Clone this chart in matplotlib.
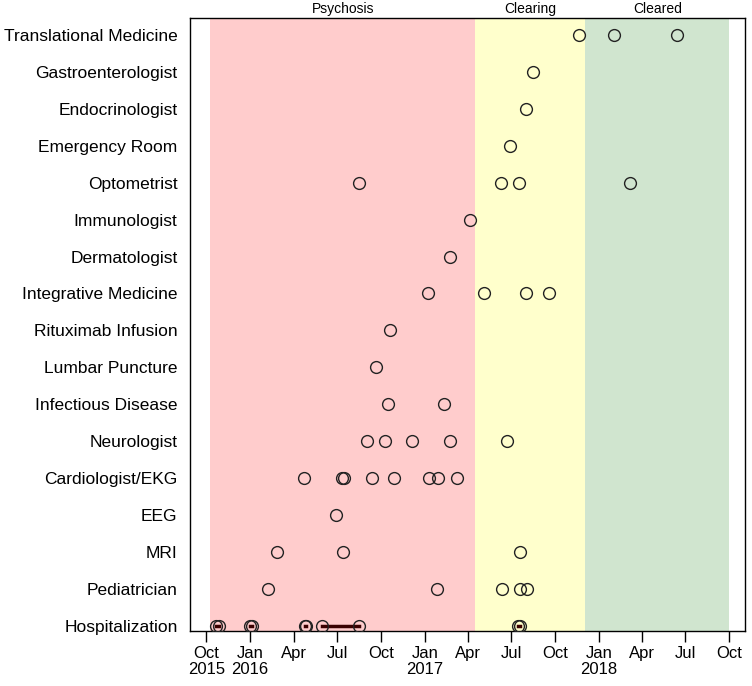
import numpy as np
import matplotlib
matplotlib.use('Agg')
import matplotlib.pyplot as plt
from datetime import datetime

plt.rcParams['font.family'] = ['Liberation Sans', 'DejaVu Sans']

# categories, bottom to top
categories = ['Hospitalization', 'Pediatrician', 'MRI', 'EEG', 'Cardiologist/EKG',
              'Neurologist', 'Infectious Disease', 'Lumbar Puncture',
              'Rituximab Infusion', 'Integrative Medicine', 'Dermatologist',
              'Immunologist', 'Optometrist', 'Emergency Room', 'Endocrinologist',
              'Gastroenterologist', 'Translational Medicine']

visits = {
    'Pediatrician': ['2016-02-08', '2017-01-26', '2017-06-12', '2017-07-20', '2017-08-04'],
    'MRI': ['2016-02-27', '2016-07-14', '2017-07-20'],
    'EEG': ['2016-06-29'],
    'Cardiologist/EKG': ['2016-04-23', '2016-07-12', '2016-07-16', '2016-09-13',
                         '2016-10-29', '2017-01-09', '2017-01-28', '2017-03-09'],
    'Neurologist': ['2016-09-02', '2016-10-10', '2016-12-06', '2017-02-22', '2017-06-23'],
    'Infectious Disease': ['2016-10-16', '2017-02-10'],
    'Lumbar Puncture': ['2016-09-21'],
    'Rituximab Infusion': ['2016-10-21'],
    'Integrative Medicine': ['2017-01-07', '2017-05-04', '2017-08-02', '2017-09-19'],
    'Dermatologist': ['2017-02-22'],
    'Immunologist': ['2017-04-06'],
    'Optometrist': ['2016-08-17', '2017-06-10', '2017-07-18', '2018-03-07'],
    'Emergency Room': ['2017-06-29'],
    'Endocrinologist': ['2017-08-02'],
    'Gastroenterologist': ['2017-08-16'],
    'Translational Medicine': ['2017-11-21', '2018-02-02', '2018-06-14'],
}

# hospital stays: admission, discharge
stay_start = ['2015-10-22', '2016-01-01', '2016-04-24', '2016-05-31', '2017-07-16']
stay_end = ['2015-10-27', '2016-01-05', '2016-04-26', '2016-08-17', '2017-07-19']

phases = ['Psychosis', 'Clearing', 'Cleared']
phase_start = ['2015-10-09', '2017-04-17', '2017-12-03']
phase_end = ['2017-04-17', '2017-12-03', '2018-10-01']
phase_colors = ['#FFCCCC', '#FFFFCC', '#D0E5CF']

def d(s):
    return datetime.strptime(s, '%Y-%m-%d')

fig = plt.figure(figsize=(7.52, 6.86), dpi=100)
ax = fig.add_axes([0.2527, 0.0802, 0.7380, 0.8936])

for name, s, e, c in zip(phases, phase_start, phase_end, phase_colors):
    ax.axvspan(d(s), d(e), color=c, lw=0, zorder=0)
    mid = d(s) + (d(e) - d(s)) / 2
    ax.text(mid, 1.004, name, transform=ax.get_xaxis_transform(),
            ha='center', va='bottom', fontsize=10)

mk = dict(marker='o', ms=8.5, mfc='none', mec='#222222', mew=1.0, ls='none', zorder=3)

for i, cat in enumerate(categories):
    if cat in visits:
        xs = [d(s) for s in visits[cat]]
        ax.plot(xs, [i] * len(xs), **mk)

for s, e in zip(stay_start, stay_end):
    ax.plot([d(s), d(e)], [0, 0], color='#3a0000', lw=2.5, zorder=2)
    ax.plot([d(s), d(e)], [0, 0], **mk)

ax.set_yticks(range(len(categories)))
ax.set_yticklabels(categories, fontsize=12.5)
ax.tick_params(axis='y', length=0, pad=9)
ax.set_ylim(-0.14, 16.46)

ticks = [datetime(2015, 10, 1)]
y, m = 2015, 10
while (y, m) < (2018, 10):
    m += 3
    if m > 12:
        m -= 12
        y += 1
    ticks.append(datetime(y, m, 1))
labels = []
for t in ticks:
    lab = t.strftime('%b')
    if t.month == 1 or t == ticks[0]:
        lab += '\n' + str(t.year)
    labels.append(lab)
ax.set_xticks(ticks)
ax.set_xticklabels(labels, fontsize=12, linespacing=1.05)
ax.tick_params(axis='x', length=8, width=1, direction='out', pad=3)
ax.set_xlim(d('2015-08-28'), d('2018-11-03'))

for sp in ax.spines.values():
    sp.set_linewidth(1.0)

fig.savefig('out.png', dpi=100)
